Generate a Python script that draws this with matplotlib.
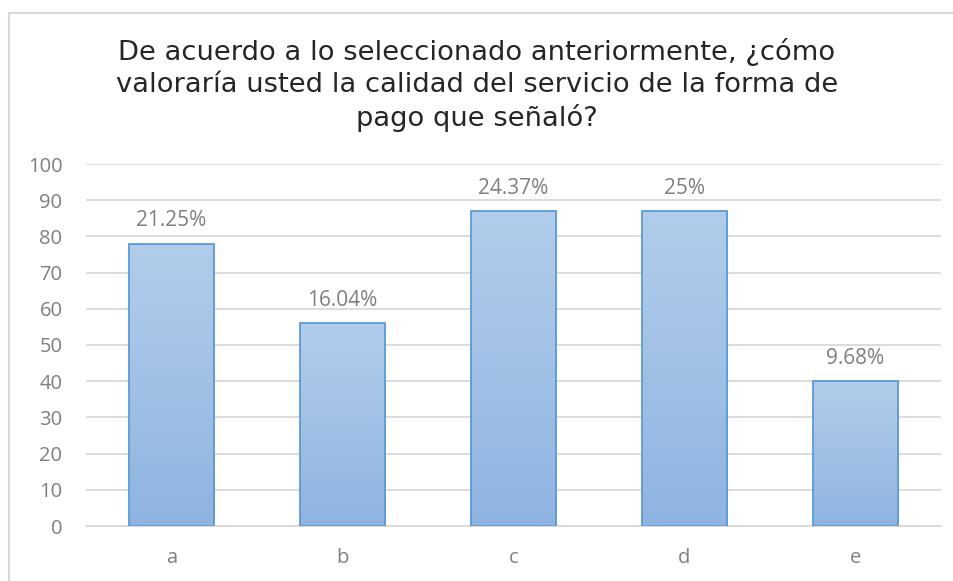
import matplotlib
matplotlib.use("Agg")
import matplotlib.pyplot as plt
import numpy as np
from matplotlib.patches import Rectangle
from matplotlib.colors import LinearSegmentedColormap

categories = ["a", "b", "c", "d", "e"]
values = [78, 56, 87, 87, 40]
labels = ["21.25%", "16.04%", "24.37%", "25%", "9.68%"]
yticks = [0, 10, 20, 30, 40, 50, 60, 70, 80, 90, 100]
title = ("De acuerdo a lo seleccionado anteriormente, ¿cómo\n"
         "valoraría usted la calidad del servicio de la forma de\n"
         "pago que señaló?")

W, H = 954, 581
fig = plt.figure(figsize=(W / 100, H / 100), dpi=100)
fig.patch.set_facecolor("white")

# chart border
fig.add_artist(Rectangle((9 / W, -0.1), 1.2, 1 - 13 / H + 0.1, transform=fig.transFigure,
                         fill=False, edgecolor="#d9d9d9", linewidth=1.5))

ax = fig.add_axes([86 / W, 55 / H, 855 / W, 362 / H])
x = np.arange(len(categories))
bars = ax.bar(x, values, width=0.5, facecolor="none", edgecolor="#5b9bd5", linewidth=1.3, zorder=3)

grad = np.linspace(0, 1, 256).reshape(-1, 1)
cmap = LinearSegmentedColormap.from_list("g", ["#8fb4e1", "#b2cdeb"])
for b in bars:
    x0, y0 = b.get_x(), b.get_y()
    w, h = b.get_width(), b.get_height()
    im = ax.imshow(grad, extent=[x0, x0 + w, y0, y0 + h], origin="lower", aspect="auto",
                   cmap=cmap, zorder=2)
    im.set_clip_path(b)

for xi, v, lab in zip(x, values, labels):
    ax.annotate(lab, (xi, v), xytext=(0, 9), textcoords="offset points", ha="center",
                va="bottom", fontsize=15, color="#7f7f7f", family="Open Sans")

ax.set_xlim(-0.5, len(categories) - 0.5)
ax.set_ylim(0, 100)
ax.set_yticks(yticks)
ax.set_xticks(x)
ax.set_xticklabels(categories)
ax.grid(axis="y", color="#d9d9d9", linewidth=1.3, zorder=0)
ax.set_axisbelow(True)
for s in ["top", "right", "left"]:
    ax.spines[s].set_visible(False)
ax.spines["bottom"].set_color("#d9d9d9")
ax.spines["bottom"].set_linewidth(1.3)
ax.tick_params(axis="both", length=0, colors="#7f7f7f", labelsize=14.5)
ax.tick_params(axis="y", pad=17)
ax.tick_params(axis="x", pad=16)
for t in ax.get_xticklabels() + ax.get_yticklabels():
    t.set_family("Open Sans")

fig.text(0.5, 1 - 38 / H, title, ha="center", va="top", fontsize=19.7, color="#262626",
         family="DejaVu Sans", linespacing=1.28)

fig.savefig("out.png", dpi=100, facecolor="white")
